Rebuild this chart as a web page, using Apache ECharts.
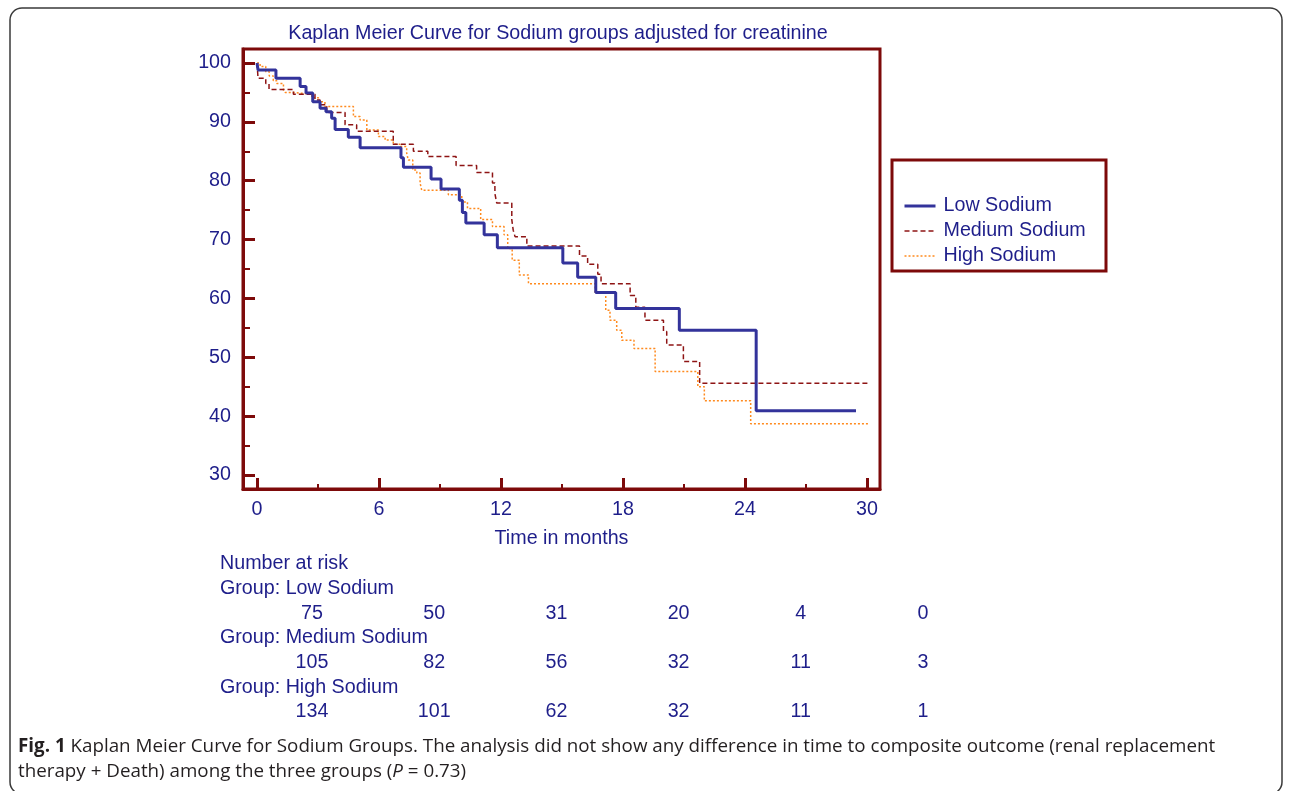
<!DOCTYPE html>
<html lang="en">
<head>
<meta charset="UTF-8">
<title>Kaplan Meier Curve for Sodium groups</title>
<script src="https://cdn.jsdelivr.net/npm/echarts@6/dist/echarts.min.js"></script>
<style>
  html, body { margin: 0; padding: 0; background: #fff; }
  #chart { width: 1292px; height: 791px; }
</style>
</head>
<body>
<div id="chart"></div>
<script>
// survival curves: [month, % event free]
var lowSodium = [[0,100],[0.05,98.8],[0.93,97.4],[2.12,96.0],[2.41,94.9],[2.74,93.4],[3.10,92.3],
  [3.39,91.7],[3.67,90.6],[3.84,88.7],[4.49,87.4],[5.07,85.6],[7.08,83.9],[7.2,82.3],[8.56,80.3],
  [9.05,78.6],[9.95,76.7],[10.1,74.6],[10.27,72.8],[11.17,70.8],[11.82,68.6],[15.04,66.0],
  [15.77,63.6],[16.66,61.0],[17.64,58.3],[20.77,54.6],[24.55,40.9],[29.46,40.9]];
var mediumSodium = [[0,100],[0.05,97.4],[0.43,96.5],[0.59,95.5],[1.79,94.7],[2.85,93.7],[3.1,92.9],
  [3.43,91.6],[4.33,89.5],[4.9,88.4],[6.7,86.2],[7.69,85.0],[8.4,84.1],[9.79,82.6],[10.8,81.4],
  [11.58,79.6],[11.7,77.8],[11.79,76.2],[12.53,73.4],[12.6,71.6],[12.69,70.5],[13.27,68.9],
  [15.86,67.2],[16.26,65.8],[16.76,64.1],[16.92,62.5],[18.35,60.5],[18.63,58.5],[19.08,56.3],
  [19.99,54.4],[20.15,52.1],[20.97,49.3],[21.77,45.6],[30.05,45.6]];
var highSodium = [[0,100],[0.15,99.4],[0.43,98.5],[0.6,97.8],[0.8,97.0],[0.97,96.5],[1.3,95.4],
  [1.38,95.0],[1.79,94.7],[2.69,94.1],[3.02,93.4],[3.34,92.6],[4.74,90.9],[5.07,90.3],[5.4,88.6],
  [5.97,87.5],[6.3,86.9],[6.7,86.2],[7.03,85.8],[7.36,84.7],[7.44,83.5],[7.66,81.8],[7.86,81.3],
  [8.02,79.6],[8.1,78.4],[9.41,77.6],[10.07,76.4],[10.35,75.3],[11.0,73.4],[11.58,72.2],
  [12.15,70.8],[12.33,68.5],[12.55,66.5],[12.9,64.0],[13.35,62.5],[16.63,61.0],[17.15,58.0],
  [17.36,56.3],[17.69,54.6],[17.94,52.9],[18.54,51.5],[19.58,47.6],[21.68,45.0],[22.0,42.6],
  [24.28,38.7],[30.07,38.7]];

var groupNames = ['Low Sodium', 'Medium Sodium', 'High Sodium'];
var xTicks = [0, 6, 12, 18, 24, 30];
var xMinorTicks = [3, 9, 15, 21, 27];
var yTicks = [30, 40, 50, 60, 70, 80, 90, 100];
var yMinorTicks = [35, 45, 55, 65, 75, 85, 95];

// number at risk table
var riskLow = [75, 50, 31, 20, 4, 0];
var riskMedium = [105, 82, 56, 32, 11, 3];
var riskHigh = [134, 101, 62, 32, 11, 1];

var MAROON = '#7d0a0a';
var NAVY = '#1e1e8a';
var FONT = '"Liberation Sans", Arial, sans-serif';
var FS = 19.7;

var chart = echarts.init(document.getElementById('chart'));

function txt(str, x, y, align) {
    return {
        type: 'text', x: x, y: y,
        style: { text: str, fill: NAVY, font: FS + 'px ' + FONT, textAlign: align || 'left', textVerticalAlign: 'middle' }
    };
}

var graphics = [
    { type: 'rect', shape: { x: 10, y: 8, width: 1272, height: 786, r: 12 },
      style: { fill: 'none', stroke: '#3a3a3a', lineWidth: 1.5 }, silent: true },
    txt('Kaplan Meier Curve for Sodium groups adjusted for creatinine', 558, 34, 'center'),
    { type: 'rect', shape: { x: 892, y: 160, width: 214, height: 111 },
      style: { fill: 'none', stroke: MAROON, lineWidth: 3 }, silent: true },
    txt('Number at risk', 220, 564),
    txt('Group: ' + groupNames[0], 220, 589),
    txt('Group: ' + groupNames[1], 220, 638),
    txt('Group: ' + groupNames[2], 220, 688)
];
[riskLow, riskMedium, riskHigh].forEach(function (row, r) {
    var y = [614, 663, 712][r];
    row.forEach(function (n, i) {
        graphics.push(txt(String(n), 312 + i * 122.2, y, 'center'));
    });
});
graphics.push({
    type: 'text', x: 18, y: 734,
    style: {
        text: '{b|Fig. 1} Kaplan Meier Curve for Sodium Groups. The analysis did not show any difference in time to composite outcome (renal replacement\ntherapy + Death) among the three groups ({i|P} = 0.73)',
        fill: '#231f20', font: '18.8px "Open Sans", sans-serif', lineHeight: 25,
        rich: { b: { fontWeight: 'bold', fontSize: 18.8, fontFamily: 'Open Sans' }, i: { fontStyle: 'italic', fontSize: 18.8, fontFamily: 'Open Sans' } }
    }
});

var option = {
    animation: false,
    grid: { left: 243, top: 49, width: 637, height: 440, show: true, borderColor: MAROON, borderWidth: 3 },
    legend: {
        left: 898, top: 191, orient: 'vertical',
        itemWidth: 31, itemHeight: 14, itemGap: 5,
        itemStyle: { opacity: 0 },
        lineStyle: { width: 'inherit' },
        textStyle: { color: NAVY, fontSize: FS, fontFamily: FONT, padding: [0, 0, 0, 3] },
        data: groupNames
    },
    xAxis: [{
        type: 'value', min: -0.69, max: 30.64,
        axisLine: { show: true, onZero: false, lineStyle: { color: MAROON, width: 3 } },
        axisTick: { show: true, inside: true, length: 11, customValues: xTicks, lineStyle: { color: MAROON, width: 3 } },
        axisLabel: { customValues: xTicks, color: NAVY, fontSize: FS, fontFamily: FONT, margin: 11 },
        splitLine: { show: false },
        name: 'Time in months', nameLocation: 'middle', nameGap: 40,
        nameTextStyle: { color: NAVY, fontSize: FS, fontFamily: FONT }
    }, {
        type: 'value', min: -0.69, max: 30.64, position: 'bottom',
        axisLine: { show: false, onZero: false },
        axisTick: { show: true, inside: true, length: 5, customValues: xMinorTicks, lineStyle: { color: MAROON, width: 2 } },
        axisLabel: { show: false },
        splitLine: { show: false }
    }],
    yAxis: [{
        type: 'value', min: 27.62, max: 102.38,
        axisLine: { show: true, onZero: false, lineStyle: { color: MAROON, width: 3 } },
        axisTick: { show: true, inside: true, length: 12, customValues: yTicks, lineStyle: { color: MAROON, width: 3 } },
        axisLabel: { customValues: yTicks, color: NAVY, fontSize: FS, fontFamily: FONT, margin: 12 },
        splitLine: { show: false }
    }, {
        type: 'value', min: 27.62, max: 102.38, position: 'left',
        axisLine: { show: false, onZero: false },
        axisTick: { show: true, inside: true, length: 7, customValues: yMinorTicks, lineStyle: { color: MAROON, width: 2 } },
        axisLabel: { show: false },
        splitLine: { show: false }
    }],
    series: [{
        name: groupNames[0], type: 'line', step: 'end', symbol: 'none', data: lowSodium, z: 4,
        lineStyle: { color: '#33339b', width: 3 }, itemStyle: { color: '#33339b' }
    }, {
        name: groupNames[1], type: 'line', step: 'end', symbol: 'none', data: mediumSodium, z: 3,
        lineStyle: { color: '#8e1414', width: 1.5, type: [5, 3] }, itemStyle: { color: '#8e1414' }
    }, {
        name: groupNames[2], type: 'line', step: 'end', symbol: 'none', data: highSodium, z: 2,
        lineStyle: { color: '#ff8a1e', width: 1.5, type: [2, 2] }, itemStyle: { color: '#ff8a1e' }
    }],
    graphic: graphics
};
chart.setOption(option);
</script>
</body>
</html>
